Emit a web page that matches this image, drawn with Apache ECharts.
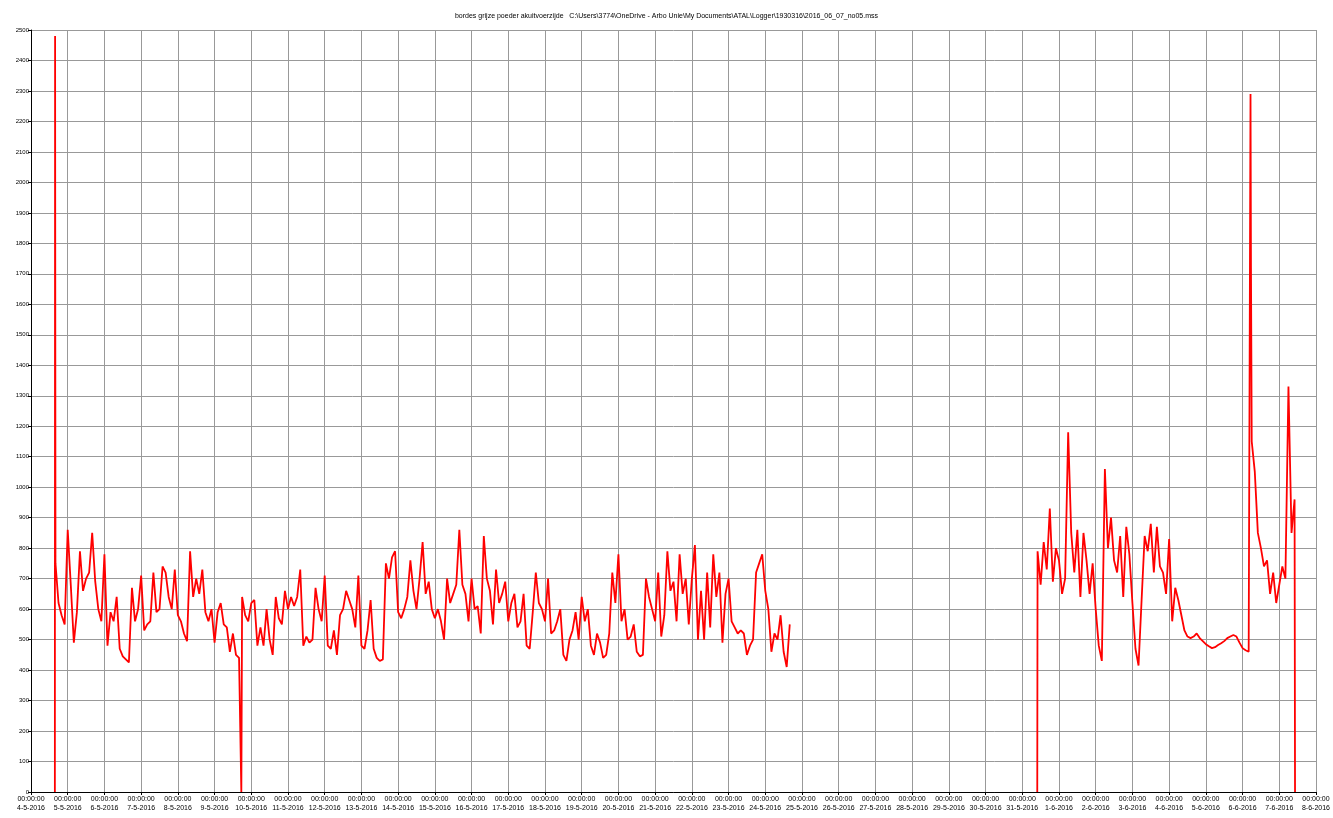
<!DOCTYPE html>
<html>
<head>
<meta charset="utf-8">
<script src="https://cdn.jsdelivr.net/npm/echarts@6/dist/echarts.min.js"></script>
<style>
html,body{margin:0;padding:0;background:#fff;overflow:hidden;}
#chart{width:1333px;height:818px;}
</style>
</head>
<body>
<div id="chart"></div>
<script>
// Title
const chartTitle = 'bordes grijze poeder akuitvoerzijde   C:\\Users\\3774\\OneDrive - Arbo Unie\\My Documents\\ATAL\\Logger\\1930316\\2016_06_07_no05.mss';

// X tick labels (one per day, 00:00:00)
const dayLabels = ['4-5-2016','5-5-2016','6-5-2016','7-5-2016','8-5-2016','9-5-2016','10-5-2016','11-5-2016','12-5-2016','13-5-2016','14-5-2016','15-5-2016','16-5-2016','17-5-2016','18-5-2016','19-5-2016','20-5-2016','21-5-2016','22-5-2016','23-5-2016','24-5-2016','25-5-2016','26-5-2016','27-5-2016','28-5-2016','29-5-2016','30-5-2016','31-5-2016','1-6-2016','2-6-2016','3-6-2016','4-6-2016','5-6-2016','6-6-2016','7-6-2016','8-6-2016'];
const timeOfDay = '00:00:00';

// Logger samples: hours since 4-5-2016 00:00, sampled every 2 hours
const stepHours = 2;
const seg1Start = 16;
const seg1Values = [750,620,580,550,860,680,490,590,790,660,700,720,850,690,600,560,780,480,590,560,
640,470,445,435,425,670,560,600,710,530,550,560,720,590,600,740,720,640,600,730,
580,560,520,495,790,640,700,650,730,590,560,600,490,590,620,550,540,460,520,450,
440,640,580,560,620,630,480,540,480,600,500,450,640,570,550,660,600,640,610,640,
730,480,510,490,500,670,600,560,710,480,470,530,450,580,600,660,630,600,540,710,
480,470,530,630,470,440,430,435,750,700,770,790,590,570,600,640,760,660,600,700,
820,650,690,600,570,600,560,500,700,620,650,680,860,680,650,560,700,600,610,520,
840,700,660,550,730,620,650,690,560,620,650,540,560,650,480,470,590,720,620,600,
560,700,520,530,560,600,450,430,500,530,590,500,640,560,600,480,450,520,490,440,
450,520,720,620,780,560,600,500,510,550,460,445,450,700,640,600,560,720,510,580,
790,660,690,560,780,650,700,550,700,810,500,660,500,720,540,780,640,720,490,650,
700,560,540,520,530,520,450,480,500,720,750,780,660,600,460,520,500,580,460,410,550];
const seg1Spikes = [[15.6,0],[15.75,2480],[137.5,0]];

const seg2Start = 658;
const seg2Values = [790,680,820,730,930,690,800,760,650,700,1180,850,720,860,640,850,760,650,750,600,
480,430,1060,800,900,760,720,840,640,870,780,620,470,415,630,840,790,880,720,870,
740,720,650,830,560,670,630,580,530,510,505,510,520,505,495,485,478,472,475,482,
488,495,505,510,515,510,490,472,465,460,1150,1050,850,800,740,760,650,720,620,680,
740,700,1330,850,960];
const seg2Spikes = [[657.8,0],[797.2,2290],[797.5,1720],[826.3,0]];

function buildSeries(start, values, spikes){
  const pts = values.map((v,i)=>[start + i*stepHours, v]);
  return pts.concat(spikes).sort((a,b)=>a[0]-b[0]);
}

const chart = echarts.init(document.getElementById('chart'), null, {renderer:'canvas'});
const lineStyle = {color:'#ff0000', width:1.8};
chart.setOption({
  animation:false,
  backgroundColor:'#ffffff',
  title:{
    text:chartTitle, left:'center', top:8,
    textStyle:{fontSize:7, fontWeight:'normal', color:'#000', fontFamily:'Liberation Sans'}
  },
  grid:{left:31, right:14, top:30, bottom:26, containLabel:false},
  xAxis:{
    type:'value', min:0, max:840, interval:24,
    axisLine:{show:true, onZero:false, lineStyle:{color:'#000', width:1}},
    axisTick:{show:true, length:3, lineStyle:{color:'#000'}},
    axisLabel:{
      fontSize:7, color:'#000', fontFamily:'Liberation Sans', margin:3, lineHeight:9,
      showMinLabel:true, showMaxLabel:true, hideOverlap:false,
      formatter:function(v){ return timeOfDay + '\n' + dayLabels[Math.round(v/24)]; }
    },
    splitLine:{show:true, lineStyle:{color:'#999', width:1}}
  },
  yAxis:{
    type:'value', min:0, max:2500, interval:100,
    axisLine:{show:true, lineStyle:{color:'#000', width:1}},
    axisTick:{show:true, length:3, lineStyle:{color:'#000'}},
    axisLabel:{fontSize:6, color:'#000', fontFamily:'Liberation Sans', margin:2,
      formatter:function(v){ return String(v); }},
    splitLine:{show:true, lineStyle:{color:'#999', width:1}}
  },
  series:[
    {type:'line', data:buildSeries(seg1Start, seg1Values, seg1Spikes), showSymbol:false, symbol:'none', lineStyle:lineStyle, z:5},
    {type:'line', data:buildSeries(seg2Start, seg2Values, seg2Spikes), showSymbol:false, symbol:'none', lineStyle:lineStyle, z:5}
  ]
});
</script>
</body>
</html>
